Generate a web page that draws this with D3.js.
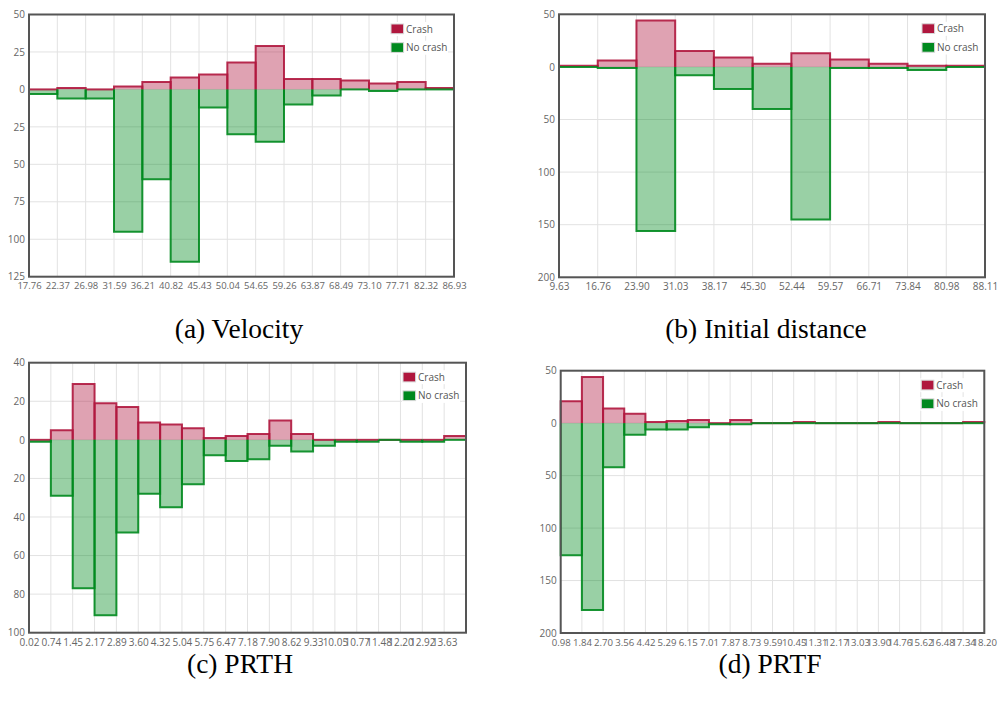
<!DOCTYPE html>
<html lang="en">
<head>
    <meta charset="UTF-8">
    <title>Crash / No crash histograms</title>
    <script src="https://d3js.org/d3.v7.min.js"></script>
    <style>
        body { margin: 0; background: #fff; }
        .tick text { fill: #666; font-family: "Open Sans", sans-serif; }
        .legend text { font-family: "Open Sans", sans-serif; font-size: 10px; fill: #555; }
    </style>
</head>
<body>
<svg id="fig" width="998" height="702"></svg>
<script>
    // (a) Velocity
    const velocityLabels = ["17.76","22.37","26.98","31.59","36.21","40.82","45.43","50.04","54.65","59.26","63.87","68.49","73.10","77.71","82.32","86.93"];
    const velocityCrash   = [0, 1, 0, 2, 5, 8, 10, 18, 29, 7, 7, 6, 4, 5, 1];
    const velocityNoCrash = [3, 6, 6, 95, 60, 115, 12, 30, 35, 10, 4, 0, 1, 0, 0];
    const velocityTicks = [50, 25, 0, -25, -50, -75, -100, -125];

    // (b) Initial distance
    const distanceLabels = ["9.63","16.76","23.90","31.03","38.17","45.30","52.44","59.57","66.71","73.84","80.98","88.11"];
    const distanceCrash   = [1, 6, 44, 15, 9, 3, 13, 7, 3, 1, 1];
    const distanceNoCrash = [0, 1, 156, 8, 21, 40, 145, 1, 1, 3, 0];
    const distanceTicks = [50, 0, -50, -100, -150, -200];

    // (c) PRTH  (20 bins, last edge not labelled)
    const prthLabels = ["0.02","0.74","1.45","2.17","2.89","3.60","4.32","5.04","5.75","6.47","7.18","7.90","8.62","9.33","10.05","10.77","11.48","12.20","12.92","13.63"];
    const prthCrash   = [0, 5, 29, 19, 17, 9, 8, 6, 1, 2, 3, 10, 3, 0, 0, 0, 0, 0, 0, 2];
    const prthNoCrash = [1, 29, 77, 91, 48, 28, 35, 23, 8, 11, 10, 3, 6, 3, 1, 1, 0, 1, 1, 0];
    const prthTicks = [40, 20, 0, -20, -40, -60, -80, -100];

    // (d) PRTF
    const prtfLabels = ["0.98","1.84","2.70","3.56","4.42","5.29","6.15","7.01","7.87","8.73","9.59","10.45","11.31","12.17","13.03","13.90","14.76","15.62","16.48","17.34","18.20"];
    const prtfCrash   = [21, 44, 14, 9, 1, 2, 3, 0, 3, 0, 0, 1, 0, 0, 0, 1, 0, 0, 0, 1];
    const prtfNoCrash = [126, 178, 42, 11, 6, 6, 4, 1, 1, 0, 0, 0, 0, 0, 0, 0, 0, 0, 0, 0];
    const prtfTicks = [50, 0, -50, -100, -150, -200];

    const crashColor = "#b0173e", noCrashColor = "#00891e";

    const panels = [
        { caption: "(a) Velocity", labels: velocityLabels, crash: velocityCrash, noCrash: velocityNoCrash, ticks: velocityTicks,
          left: 29, right: 454, top: 14.5, bottom: 276.7, font: 9.5, capX: 239, capY: 338 },
        { caption: "(b) Initial distance", labels: distanceLabels, crash: distanceCrash, noCrash: distanceNoCrash, ticks: distanceTicks,
          left: 559, right: 985, top: 14.3, bottom: 277.3, font: 10, capX: 766, capY: 338 },
        { caption: "(c) PRTH", labels: prthLabels, crash: prthCrash, noCrash: prthNoCrash, ticks: prthTicks,
          left: 29, right: 466, top: 362.7, bottom: 632.7, font: 10, capX: 240, capY: 673 },
        { caption: "(d) PRTF", labels: prtfLabels, crash: prtfCrash, noCrash: prtfNoCrash, ticks: prtfTicks,
          left: 560.7, right: 984.3, top: 370.7, bottom: 633, font: 9.6, capX: 770, capY: 673 }
    ];

    const svg = d3.select("#fig");

    panels.forEach(p => {
        const n = p.crash.length;
        const x = d3.scaleLinear().domain([0, n]).range([p.left, p.right]);
        const y = d3.scaleLinear().domain([d3.min(p.ticks), d3.max(p.ticks)]).range([p.bottom, p.top]);
        const g = svg.append("g");

        // grid
        g.selectAll(".vgrid").data(d3.range(n + 1)).enter().append("line")
            .attr("x1", d => x(d)).attr("x2", d => x(d))
            .attr("y1", p.top).attr("y2", p.bottom)
            .attr("stroke", "#e2e2e2").attr("stroke-width", 1);
        g.selectAll(".hgrid").data(p.ticks).enter().append("line")
            .attr("x1", p.left).attr("x2", p.right)
            .attr("y1", d => y(d)).attr("y2", d => y(d))
            .attr("stroke", "#e2e2e2").attr("stroke-width", 1);

        // bars: fill, then 3-sided outline (base edge skipped)
        const series = [
            { values: p.crash, sign: 1, color: crashColor },
            { values: p.noCrash, sign: -1, color: noCrashColor }
        ];
        series.forEach(s => {
            const data = s.values.map((v, i) => ({ i, v: v * s.sign }));
            g.selectAll(null).data(data).enter().append("rect")
                .attr("x", d => x(d.i))
                .attr("width", d => x(d.i + 1) - x(d.i))
                .attr("y", d => Math.min(y(0), y(d.v)))
                .attr("height", d => Math.abs(y(d.v) - y(0)))
                .attr("fill", s.color).attr("fill-opacity", 0.4);
        });
        series.forEach(s => {
            const data = s.values.map((v, i) => ({ i, v: v * s.sign }));
            g.selectAll(null).data(data).enter().append("path")
                .attr("d", d => `M${x(d.i)},${y(0)}L${x(d.i)},${y(d.v)}L${x(d.i + 1)},${y(d.v)}L${x(d.i + 1)},${y(0)}`)
                .attr("fill", "none")
                .attr("stroke", s.color).attr("stroke-opacity", 0.9)
                .attr("stroke-width", 2);
        });

        // frame
        g.append("rect")
            .attr("x", p.left).attr("y", p.top)
            .attr("width", p.right - p.left).attr("height", p.bottom - p.top)
            .attr("fill", "none").attr("stroke", "#555").attr("stroke-width", 2);

        // axes
        const xAxis = g.append("g")
            .attr("transform", `translate(0,${p.bottom})`)
            .call(d3.axisBottom(x).tickValues(d3.range(p.labels.length))
                .tickFormat(i => p.labels[i]).tickSize(0).tickPadding(6));
        xAxis.select(".domain").remove();
        xAxis.selectAll("text").style("font-size", p.font + "px");

        const yAxis = g.append("g")
            .attr("transform", `translate(${p.left},0)`)
            .call(d3.axisLeft(y).tickValues(p.ticks)
                .tickFormat(d => Math.abs(d)).tickSize(0).tickPadding(4));
        yAxis.select(".domain").remove();
        yAxis.selectAll("text").style("font-size", "10px");

        // legend
        const lg = g.append("g").attr("class", "legend")
            .attr("transform", `translate(${p.right - 63},${p.top + 9.5})`);
        [["Crash", crashColor], ["No crash", noCrashColor]].forEach((it, k) => {
            const row = lg.append("g").attr("transform", `translate(0,${k * 18.7})`);
            row.append("rect").attr("x", -1).attr("y", -2).attr("width", 58).attr("height", 14).attr("fill", "#fff");
            row.append("rect").attr("x", 0).attr("y", 0).attr("width", 12.6).attr("height", 9.7)
                .attr("fill", it[1]).attr("stroke", "#d8d8d8").attr("stroke-width", 1);
            row.append("text").attr("x", 15).attr("y", 8.5).text(it[0]);
        });

        // caption
        svg.append("text")
            .attr("x", p.capX).attr("y", p.capY)
            .attr("text-anchor", "middle")
            .style("font-family", "'Liberation Serif', 'Times New Roman', serif")
            .style("font-size", "27.5px")
            .style("fill", "#000")
            .text(p.caption);
    });
</script>
</body>
</html>
